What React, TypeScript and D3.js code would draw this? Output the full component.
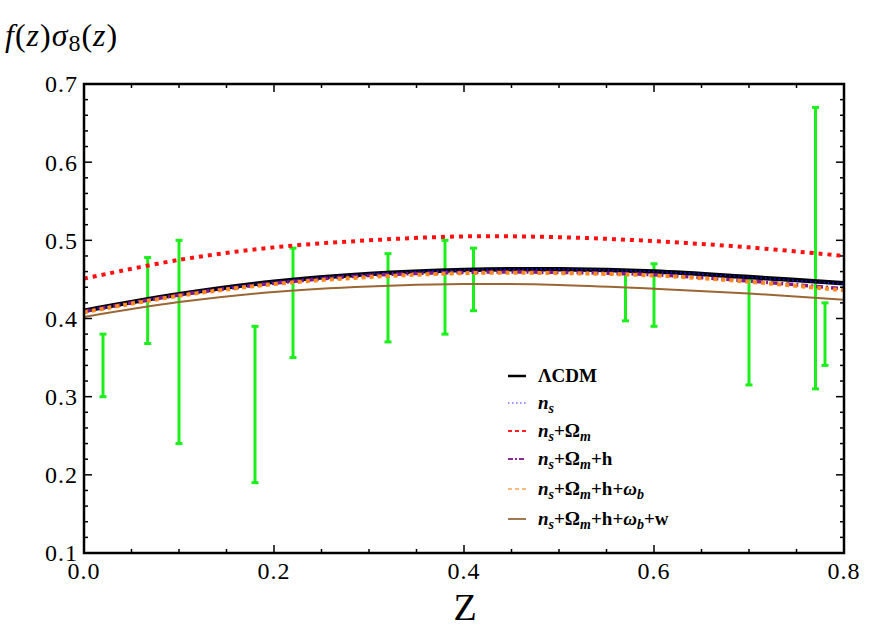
import * as d3 from "d3";

// model curves sampled along z
const zGrid = [0, 0.1, 0.2, 0.3, 0.4, 0.5, 0.6, 0.7, 0.8];
const lcdm = [0.41, 0.431, 0.447, 0.457, 0.462, 0.463, 0.46, 0.453, 0.445];
const nsOnly = [0.41, 0.431, 0.447, 0.457, 0.462, 0.463, 0.46, 0.453, 0.444];
const nsOm = [0.451, 0.475, 0.491, 0.5, 0.505, 0.504, 0.499, 0.491, 0.48];
const nsOmH = [0.409, 0.43, 0.445, 0.455, 0.459, 0.459, 0.456, 0.448, 0.438];
const nsOmHWb = [0.408, 0.429, 0.444, 0.453, 0.458, 0.458, 0.455, 0.447, 0.436];
const nsOmHWbW = [0.402, 0.421, 0.434, 0.441, 0.444, 0.443, 0.438, 0.432, 0.424];

// observed f sigma8 with error ranges
const obsZ = [0.02, 0.067, 0.1, 0.18, 0.22, 0.32, 0.38, 0.41, 0.57, 0.6, 0.7, 0.77, 0.78];
const obsLow = [0.3, 0.368, 0.24, 0.19, 0.35, 0.37, 0.38, 0.41, 0.397, 0.39, 0.315, 0.31, 0.34];
const obsHigh = [0.38, 0.478, 0.5, 0.39, 0.49, 0.483, 0.5, 0.49, 0.457, 0.47, 0.449, 0.67, 0.42];

const xTicks = [0, 0.2, 0.4, 0.6, 0.8];
const yTicks = [0.1, 0.2, 0.3, 0.4, 0.5, 0.6, 0.7];

const W = 888;
const H = 633;
const m = { left: 84, right: 844, top: 84, bottom: 553 };
const serif = '"Liberation Serif"';

const x = d3.scaleLinear().domain([0, 0.8]).range([m.left, m.right]);
const y = d3.scaleLinear().domain([0.1, 0.7]).range([m.bottom, m.top]);
const fmt = d3.format(".1f");

const lineGen = d3
  .line<number>()
  .x((_, i) => x(zGrid[i]))
  .y((d) => y(d))
  .curve(d3.curveCatmullRom);

const series = [
  { vals: lcdm, color: "#000", width: 4.5, dash: undefined as string | undefined },
  { vals: nsOnly, color: "#1010ff", width: 1.6, dash: "1.5,3" },
  { vals: nsOm, color: "#ff1010", width: 4, dash: "4,5" },
  { vals: nsOmH, color: "#7f1a8c", width: 3.5, dash: "7,3,2,3" },
  { vals: nsOmHWb, color: "#ff8a1c", width: 4, dash: "4,4" },
  { vals: nsOmHWbW, color: "#9a6633", width: 2, dash: undefined },
];

type Part = { t: string; it?: boolean; sub?: boolean };
const ns: Part[] = [{ t: "n", it: true }, { t: "s", it: true, sub: true }];
const om: Part[] = [{ t: "+Ω" }, { t: "m", it: true, sub: true }];
const hh: Part[] = [{ t: "+h" }];
const wb: Part[] = [{ t: "+" }, { t: "ω", it: true }, { t: "b", it: true, sub: true }];
const legendRows = [
  { parts: [{ t: "ΛCDM" }] as Part[], color: "#000", width: 2.5, dash: undefined as string | undefined },
  { parts: [...ns], color: "#3030ff", width: 1.2, dash: "1.5,2.5" },
  { parts: [...ns, ...om], color: "#ff2020", width: 2, dash: "4,3" },
  { parts: [...ns, ...om, ...hh], color: "#8a2a96", width: 2, dash: "5,2,2,2" },
  { parts: [...ns, ...om, ...hh, ...wb], color: "#ffbb77", width: 2, dash: "4,3" },
  { parts: [...ns, ...om, ...hh, ...wb, { t: "+w" }], color: "#a07a4e", width: 2, dash: undefined },
];
const rowY = [376, 403, 431, 459, 489, 519];

const green = "#1cef1c";

const LegendText = ({ parts, yy }: { parts: Part[]; yy: number }) => {
  let down = false;
  return (
    <text x={538} y={yy + 6} style={{ fontFamily: serif, fontSize: 19, fontWeight: "bold" }}>
      {parts.map((p, k) => {
        let dy: number | undefined;
        if (p.sub && !down) { dy = 4; down = true; }
        else if (!p.sub && down) { dy = -4; down = false; }
        return (
          <tspan key={k} dy={dy}
            style={{ fontStyle: p.it ? "italic" : "normal", fontSize: p.sub ? 14 : 19 }}>
            {p.t}
          </tspan>
        );
      })}
    </text>
  );
};

export default function App() {
  const xMinor = d3.range(0, 0.8001, 0.05);
  const yMinor = d3.range(0.1, 0.7001, 0.02);
  return (
    <svg width={W} height={H} style={{ display: "block", position: "absolute", left: 0, top: 0, background: "#fff" }}>
      <defs>
        <clipPath id="plotclip">
          <rect x={m.left} y={m.top} width={m.right - m.left} height={m.bottom - m.top} />
        </clipPath>
      </defs>

      {/* error bars below the curves */}
      <g>
        {obsZ.map((z, i) => (
          <g key={i} stroke={green} strokeWidth={3}>
            <line x1={x(z)} x2={x(z)} y1={y(obsLow[i])} y2={y(obsHigh[i])} />
            <line x1={x(z) - 3.5} x2={x(z) + 3.5} y1={y(obsLow[i])} y2={y(obsLow[i])} />
            <line x1={x(z) - 3.5} x2={x(z) + 3.5} y1={y(obsHigh[i])} y2={y(obsHigh[i])} />
          </g>
        ))}
      </g>

      <g clipPath="url(#plotclip)">
        {series.map((s, i) => (
          <path key={i} d={lineGen(s.vals) || ""} fill="none" stroke={s.color}
            strokeWidth={s.width} strokeDasharray={s.dash} />
        ))}
      </g>

      {/* frame and inward ticks */}
      <rect x={m.left} y={m.top} width={m.right - m.left} height={m.bottom - m.top}
        fill="none" stroke="#000" strokeWidth={2.5} />
      <g stroke="#000" strokeWidth={1.5}>
        {xMinor.map((v, i) => {
          const len = xTicks.some((t) => Math.abs(t - v) < 1e-6) ? 8 : 4;
          return (
            <g key={i}>
              <line x1={x(v)} x2={x(v)} y1={m.bottom} y2={m.bottom - len} />
              <line x1={x(v)} x2={x(v)} y1={m.top} y2={m.top + len} />
            </g>
          );
        })}
        {yMinor.map((v, i) => {
          const len = yTicks.some((t) => Math.abs(t - v) < 1e-6) ? 8 : 4;
          return (
            <g key={i}>
              <line x1={m.left} x2={m.left + len} y1={y(v)} y2={y(v)} />
              <line x1={m.right} x2={m.right - len} y1={y(v)} y2={y(v)} />
            </g>
          );
        })}
      </g>

      <g style={{ fontFamily: serif, fontSize: 24, letterSpacing: 1 }}>
        {xTicks.map((d) => (
          <text key={d} x={x(d)} y={579} textAnchor="middle">{fmt(d)}</text>
        ))}
        {yTicks.map((d) => (
          <text key={d} x={78} y={y(d)} dy="0.35em" textAnchor="end">{fmt(d)}</text>
        ))}
      </g>

      <text x={465} y={620} textAnchor="middle" style={{ fontFamily: serif, fontSize: 38 }}>Z</text>

      <text x={5} y={46} style={{ fontFamily: serif, fontSize: 32, letterSpacing: 1 }}>
        <tspan fontStyle="italic">f</tspan>
        <tspan>(</tspan>
        <tspan fontStyle="italic">z</tspan>
        <tspan>)</tspan>
        <tspan fontStyle="italic">σ</tspan>
        <tspan dy={5} style={{ fontSize: 24 }}>8</tspan>
        <tspan dy={-5}>(</tspan>
        <tspan fontStyle="italic">z</tspan>
        <tspan>)</tspan>
      </text>

      {legendRows.map((r, i) => (
        <g key={i}>
          <line x1={508} x2={526} y1={rowY[i]} y2={rowY[i]} stroke={r.color}
            strokeWidth={r.width} strokeDasharray={r.dash} />
          <LegendText parts={r.parts} yy={rowY[i]} />
        </g>
      ))}
    </svg>
  );
}
